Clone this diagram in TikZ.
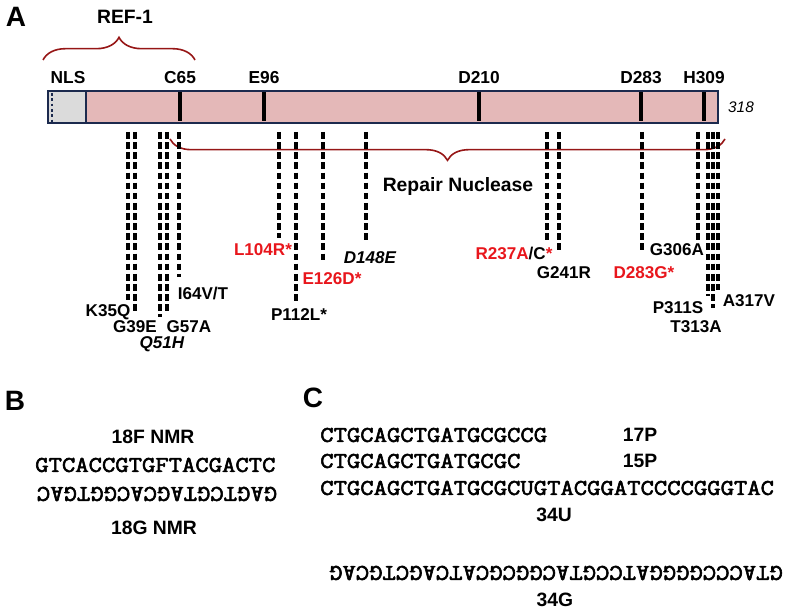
\documentclass[tikz,border=0pt]{standalone}
\usepackage{fontspec}
\setmainfont{Liberation Sans}
\newfontfamily\seqfont{Latin Modern Mono}[FakeBold=2.6,FakeStretch=1.15]
\usetikzlibrary{decorations.pathreplacing}
\definecolor{mutred}{RGB}{232,22,28}
\definecolor{bracered}{RGB}{150,22,22}
\definecolor{barpink}{RGB}{228,184,184}
\definecolor{barnavy}{RGB}{28,42,78}

\begin{document}
\begin{tikzpicture}[x=0.75pt,y=-0.75pt,
  every node/.style={inner sep=0pt,font=\bfseries\fontsize{12.8}{14}\selectfont},
  panel/.style={font=\bfseries\fontsize{21}{24}\selectfont},
  site/.style={font=\bfseries\fontsize{13}{15}\selectfont},
  title/.style={font=\bfseries\fontsize{14.5}{17}\selectfont},
  seq/.style={font=\seqfont\fontsize{16.9}{20}\selectfont},
  hit/.style={text=mutred},
  mut/.style={line width=2.5pt,dash pattern=on 5pt off 2.6pt},
  region/.style={draw=bracered,line width=1.2pt,decorate,decoration={brace,amplitude=17pt}}]

\useasboundingbox (0,0) rectangle (797,610);

\node[panel] (pA) at (16,17) {A};
\node[panel] (pB) at (15,401) {B};
\node[panel] (pC) at (313,398) {C};

\coordinate (bartop) at (48,91);
\coordinate (barbot) at (718,123);
\fill[barpink] (bartop) rectangle (barbot);
\fill[gray!28] (48,91) rectangle (86,123);
\draw[barnavy,line width=1.6pt,dash pattern=on 2pt off 2pt] (52,93) -- (52,122);
\draw[barnavy,line width=1pt] (86,91) -- (86,123);
\draw[barnavy,line width=2.2pt] (bartop) rectangle (barbot);

\node[site] (NLS) at (68,78) {NLS};
\node[site] (C65) at (180,78) {C65};
\node[site] (E96) at (264,78) {E96};
\node[site] (D210) at (479,78) {D210};
\node[site] (D283) at (641,78) {D283};
\node[site] (H309) at (704,78) {H309};
\foreach \n in {C65,E96,D210,D283,H309}
  \draw[line width=2.3pt] (\n |- 0,92.5) -- (\n |- 0,121.5);
\node[font=\itshape\fontsize{11.5}{13}\selectfont] (len) at (741,107) {318};

\coordinate (ref1w) at (43,60);
\coordinate (ref1e) at (195,60);
\draw[region] (ref1w) -- (ref1e);
\node[title] (ref1) at (125,17) {REF-1};

\coordinate (nucw) at (170,139);
\coordinate (nuce) at (725,139);
\draw[region,decoration={amplitude=16pt}] (nuce) -- (nucw);
\node[title] (nuc) at (458,187) {Repair Nuclease};

\foreach \n/\x/\y in {k35/128/300,g39/135/312,q51/160/317,g57/167/313,i64/179/277,
    l104/279/238,p112/296/302,e126/323/260,d148/366/240,
    r237/547/240,g241/559/252,d283/642/250,g306/698/240,
    p311/708/296,t313/713/308,a317/718/290}
{
  \coordinate (\n a) at (\x,132);
  \coordinate (\n b) at (\x,\y);
  \draw[mut] (\n a) -- (\n b);
}

\node (K35Q) at (108,312) {K35Q};
\node (G39E) at (135,327) {G39E};
\node[font=\bfseries\itshape\fontsize{12.8}{14}\selectfont] (Q51H) at (162,344) {Q51H};
\node (G57A) at (189,327) {G57A};
\node (I64VT) at (203,293) {I64V/T};
\node[hit] (L104R) at (263,250) {L104R*};
\node (P112L) at (299,315) {P112L*};
\node[hit] (E126D) at (332,279) {E126D*};
\node[font=\bfseries\itshape\fontsize{12.8}{14}\selectfont] (D148E) at (370,258) {D148E};
\node (R237AC) at (514,253) {\textcolor{mutred}{R237A}/C\textcolor{mutred}{*}};
\node (G241R) at (564,273) {G241R};
\node[hit] (D283G) at (644,273) {D283G*};
\node (G306A) at (677,250) {G306A};
\node (P311S) at (678,308) {P311S};
\node (T313A) at (696,327) {T313A};
\node (A317V) at (749,301) {A317V};

\node[title] (f18) at (153,437) {18F NMR};
\node[seq,anchor=west] (s18f) at (35,465) {GTCACCGTGFTACGACTC};
\node[seq,rotate=180] (s18g) at (157,494) {GAGTCGTAGCACGGTGAC};
\node[title] (g18) at (154,528) {18G NMR};

\node[seq,anchor=west] (s17p) at (320,435) {CTGCAGCTGATGCGCCG};
\node[title] (p17) at (640,435) {17P};
\node[seq,anchor=west] (s15p) at (320,461) {CTGCAGCTGATGCGC};
\node[title] (p15) at (640,461) {15P};
\node[seq,anchor=west] (s34u) at (320,488) {CTGCAGCTGATGCGCUGTACGGATCCCCGGGTAC};
\node[title] (u34) at (554,515) {34U};
\node[seq,rotate=180] (s34g) at (556,573) {GTACCCGGGGATCCGTACGGCGCATCAGCTGCAG};
\node[title] (g34) at (555,600) {34G};
\end{tikzpicture}
\end{document}
